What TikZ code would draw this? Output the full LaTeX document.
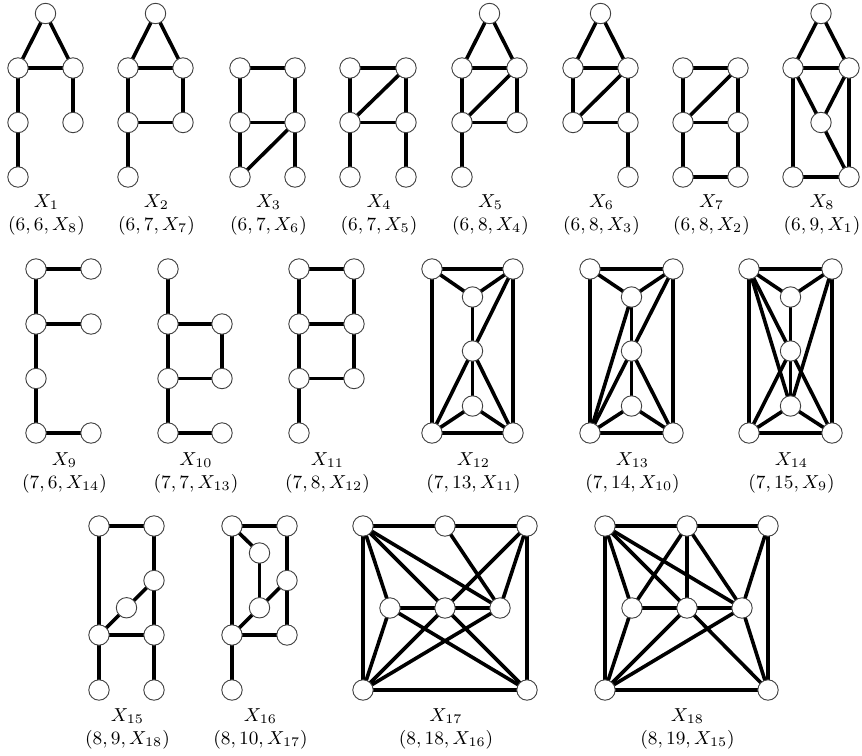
\RequirePackage{fix-cm}
\documentclass[tikz,border=0pt]{standalone}
\pgfdeclarelayer{bg}
\pgfsetlayers{bg,main}
\tikzset{
  v/.style={circle, draw=black!75, line width=0.45pt, fill=white, minimum size=10.2pt, inner sep=0pt},
  e/.style={line width=1.8pt, black},
  lab/.style={align=center, font=\fontsize{9.4}{11.8}\selectfont, inner sep=0pt}
}
\newcommand\gv[3]{\node[v] (#1) at (#2,#3) {};}
\newcommand\gedges[2]{\begin{pgfonlayer}{bg}\foreach \p/\q in {#2} {\draw[e] (#1\p.center) -- (#1\q.center);}\end{pgfonlayer}}
\begin{document}
\begin{tikzpicture}[x=0.5pt,y=-0.5pt]
\useasboundingbox (0,0) rectangle (862,755);
% ---------- Row 1 ----------
% X1
\gv{g1t}{45.5}{13.5}\gv{g1a}{18}{68}\gv{g1b}{73}{68}\gv{g1c}{18}{122.5}\gv{g1d}{73}{122.5}\gv{g1e}{18}{177}
\gedges{g1}{t/a,t/b,a/b,a/c,b/d,c/e}
% X2
\gv{g2t}{155.5}{13.5}\gv{g2a}{128}{68}\gv{g2b}{183}{68}\gv{g2c}{128}{122.5}\gv{g2d}{183}{122.5}\gv{g2e}{128}{177}
\gedges{g2}{t/a,t/b,a/b,a/c,b/d,c/d,c/e}
% X3
\gv{g3a}{240}{68}\gv{g3b}{295}{68}\gv{g3c}{240}{122.5}\gv{g3d}{295}{122.5}\gv{g3e}{240}{177}\gv{g3f}{295}{177}
\gedges{g3}{a/b,a/c,b/d,c/d,c/e,d/e,d/f}
% X4
\gv{g4a}{350}{68}\gv{g4b}{406}{68}\gv{g4c}{350}{122.5}\gv{g4d}{406}{122.5}\gv{g4e}{350}{177}\gv{g4f}{406}{177}
\gedges{g4}{a/b,a/c,b/d,b/c,c/d,c/e,d/f}
% X5
\gv{g5t}{489.5}{13.5}\gv{g5a}{462}{68}\gv{g5b}{517}{68}\gv{g5c}{462}{122.5}\gv{g5d}{517}{122.5}\gv{g5e}{462}{177}
\gedges{g5}{t/a,t/b,a/b,a/c,b/c,b/d,c/d,c/e}
% X6
\gv{g6t}{600.5}{13.5}\gv{g6a}{573}{68}\gv{g6b}{628}{68}\gv{g6c}{573}{122.5}\gv{g6d}{628}{122.5}\gv{g6f}{628}{177}
\gedges{g6}{t/a,t/b,a/b,a/c,b/c,b/d,c/d,d/f}
% X7
\gv{g7a}{683}{68}\gv{g7b}{738}{68}\gv{g7c}{683}{122.5}\gv{g7d}{738}{122.5}\gv{g7e}{683}{177}\gv{g7f}{738}{177}
\gedges{g7}{a/b,a/c,b/c,b/d,c/d,c/e,d/f,e/f}
% X8
\gv{g8t}{821}{13.5}\gv{g8a}{793}{68}\gv{g8b}{849}{68}\gv{g8m}{821}{122.5}\gv{g8e}{793}{177}\gv{g8f}{849}{177}
\gedges{g8}{t/a,t/b,a/b,a/m,b/m,a/e,b/f,m/f,e/f}
% labels row 1
\node[lab] (l1) at (46.5,215) {$X_1$\\$(6,6,X_8)$};
\node[lab] (l2) at (156.5,215) {$X_2$\\$(6,7,X_7)$};
\node[lab] (l3) at (268.5,215) {$X_3$\\$(6,7,X_6)$};
\node[lab] (l4) at (379,215) {$X_4$\\$(6,7,X_5)$};
\node[lab] (l5) at (490.5,215) {$X_5$\\$(6,8,X_4)$};
\node[lab] (l6) at (601.5,215) {$X_6$\\$(6,8,X_3)$};
\node[lab] (l7) at (711.5,215) {$X_7$\\$(6,8,X_2)$};
\node[lab] (l8) at (822,215) {$X_8$\\$(6,9,X_1)$};
% ---------- Row 2 ----------
% X9
\gv{g9a}{36}{269}\gv{g9b}{91}{269}\gv{g9c}{36}{324}\gv{g9d}{91}{324}\gv{g9e}{36}{378.5}\gv{g9g}{36}{433}\gv{g9h}{91}{433}
\gedges{g9}{a/b,a/c,c/d,c/e,e/g,g/h}
% X10
\gv{g10a}{168}{269}\gv{g10c}{168}{324}\gv{g10d}{222}{324}\gv{g10e}{168}{378.5}\gv{g10f}{222}{378.5}\gv{g10g}{168}{433}\gv{g10h}{222}{433}
\gedges{g10}{a/c,c/d,c/e,d/f,e/f,e/g,g/h}
% X11
\gv{g11a}{299}{269}\gv{g11b}{354}{269}\gv{g11c}{299}{324}\gv{g11d}{354}{324}\gv{g11e}{299}{378.5}\gv{g11f}{354}{378.5}\gv{g11g}{299}{433}
\gedges{g11}{a/b,a/c,b/d,c/d,c/e,d/f,e/f,e/g}
% X12
\gv{g12a}{432}{269}\gv{g12b}{513}{269}\gv{g12c}{432}{433}\gv{g12d}{513}{433}\gv{g12p}{472.5}{297}\gv{g12q}{472.5}{351}\gv{g12r}{472.5}{406}
\gedges{g12}{a/b,a/c,b/d,c/d,a/p,b/p,p/q,b/q,q/c,q/d,q/r,r/c,r/d}
% X13
\gv{g13a}{590}{269}\gv{g13b}{673}{269}\gv{g13c}{590}{433}\gv{g13d}{673}{433}\gv{g13p}{631.5}{297}\gv{g13q}{631.5}{351}\gv{g13r}{631.5}{406}
\gedges{g13}{a/b,a/c,b/d,c/d,a/p,b/p,p/q,c/p,b/q,c/q,d/q,q/r,r/c,r/d}
% X14
\gv{g14a}{749}{269}\gv{g14b}{832}{269}\gv{g14c}{749}{433}\gv{g14d}{832}{433}\gv{g14p}{790.5}{297}\gv{g14q}{790.5}{351}\gv{g14r}{790.5}{406}
\gedges{g14}{a/b,a/c,b/d,c/d,a/p,b/p,p/q,q/r,r/c,r/d,a/q,a/r,b/r,c/q,d/q}
% labels row 2
\node[lab] (l9) at (64.5,473) {$X_9$\\$(7,6,X_{14})$};
\node[lab] (l10) at (196,473) {$X_{10}$\\$(7,7,X_{13})$};
\node[lab] (l11) at (327.5,473) {$X_{11}$\\$(7,8,X_{12})$};
\node[lab] (l12) at (473.5,473) {$X_{12}$\\$(7,13,X_{11})$};
\node[lab] (l13) at (632.5,473) {$X_{13}$\\$(7,14,X_{10})$};
\node[lab] (l14) at (791.5,473) {$X_{14}$\\$(7,15,X_9)$};
% ---------- Row 3 ----------
% X15
\gv{g15a}{99}{526}\gv{g15b}{154}{526}\gv{g15d}{154}{580.5}\gv{g15m}{126.5}{607.75}\gv{g15e}{99}{635}\gv{g15f}{154}{635}\gv{g15g}{99}{690}\gv{g15h}{154}{690}
\gedges{g15}{a/b,a/e,b/d,d/f,d/m,m/e,e/f,e/g,f/h}
% X16
\gv{g16a}{232}{526}\gv{g16b}{287}{526}\gv{g16p}{259.5}{553}\gv{g16d}{287}{580.5}\gv{g16m}{259.5}{607.75}\gv{g16e}{232}{635}\gv{g16f}{287}{635}\gv{g16g}{232}{690}
\gedges{g16}{a/b,a/p,a/e,b/d,p/m,d/m,d/f,m/e,e/f,e/g}
% X17
\gv{g17a}{363}{526}\gv{g17b}{445}{526}\gv{g17c}{527}{526}\gv{g17l}{390}{608}\gv{g17m}{445}{608}\gv{g17r}{500}{608}\gv{g17x}{363}{690}\gv{g17y}{527}{690}
\gedges{g17}{a/b,b/c,a/x,c/y,x/y,a/l,a/m,a/r,b/r,c/m,c/r,l/m,m/r,l/x,l/y,m/x,m/y,r/x}
% X18
\gv{g18a}{605}{526}\gv{g18b}{687}{526}\gv{g18c}{768}{526}\gv{g18l}{632}{608}\gv{g18m}{687}{608}\gv{g18r}{742}{608}\gv{g18x}{605}{690}\gv{g18y}{768}{690}
\gedges{g18}{a/b,b/c,a/x,c/y,x/y,a/l,a/m,a/r,b/l,b/m,b/r,c/r,l/m,m/r,l/x,m/x,r/x,m/y,r/y}
% labels row 3
\node[lab] (l15) at (127.5,729) {$X_{15}$\\$(8,9,X_{18})$};
\node[lab] (l16) at (260.5,729) {$X_{16}$\\$(8,10,X_{17})$};
\node[lab] (l17) at (446,729) {$X_{17}$\\$(8,18,X_{16})$};
\node[lab] (l18) at (687.5,729) {$X_{18}$\\$(8,19,X_{15})$};
\end{tikzpicture}
\end{document}
